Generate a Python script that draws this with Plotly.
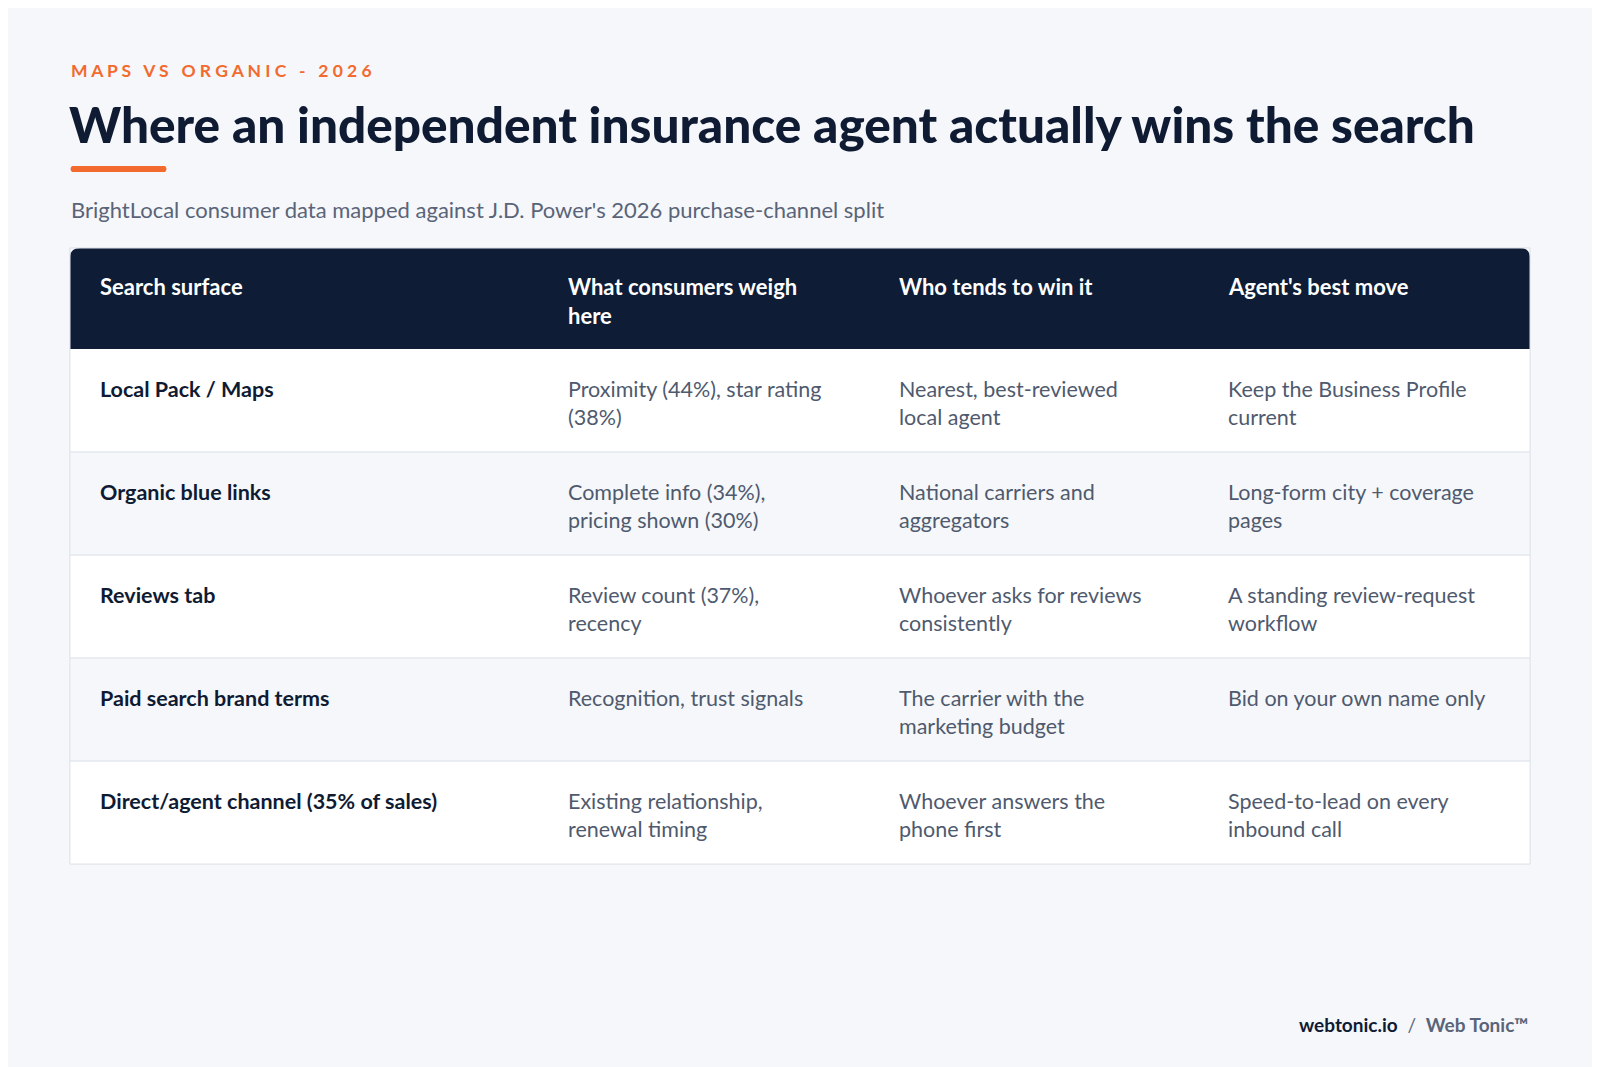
import plotly.graph_objects as go

kicker = "MAPS VS ORGANIC - 2026"
title = "Where an independent insurance agent actually wins the search"
subtitle = "BrightLocal consumer data mapped against J.D. Power's 2026 purchase-channel split"
headers = ["Search surface", "What consumers weigh<br>here", "Who tends to win it", "Agent's best move"]
surfaces = ["Local Pack / Maps", "Organic blue links", "Reviews tab", "Paid search brand terms", "Direct/agent channel (35% of sales)"]
weigh = ["Proximity (44%), star rating<br>(38%)", "Complete info (34%),<br>pricing shown (30%)", "Review count (37%),<br>recency",
         "Recognition, trust signals", "Existing relationship,<br>renewal timing"]
winner = ["Nearest, best-reviewed<br>local agent", "National carriers and<br>aggregators", "Whoever asks for reviews<br>consistently",
          "The carrier with the<br>marketing budget", "Whoever answers the<br>phone first"]
move = ["Keep the Business Profile<br>current", "Long-form city + coverage<br>pages", "A standing review-request<br>workflow",
        "Bid on your own name only", "Speed-to-lead on every<br>inbound call"]

W, H = 1600, 1067
FONT = "Lato"
NAVY = "#0E1C36"
fig = go.Figure()
shapes, ann = [], []

X0, X1 = 70, 1530
HT, HB = 248, 349
RH = 103
colx = [70, 538, 869, 1200]
textx = [c + 28 for c in colx]
textx[3] -= 2

shapes.append(dict(type="rect", x0=X0, x1=X1, y0=HT, y1=HB + RH * len(surfaces), line=dict(color="#E1E5EB", width=1), fillcolor="white", layer="below"))
shapes.append(dict(type="path", path=f"M {X0},{HB} L {X0},{HT+10} Q {X0},{HT} {X0+10},{HT} L {X1-10},{HT} Q {X1},{HT} {X1},{HT+10} L {X1},{HB} Z",
                   fillcolor=NAVY, line=dict(width=0)))
for i in range(len(surfaces)):
    y0 = HB + RH * i
    shapes.append(dict(type="rect", x0=X0, x1=X1, y0=y0, y1=y0 + RH, fillcolor="white" if i % 2 == 0 else "#F5F7FA",
                       line=dict(width=0)))
    if i > 0:
        shapes.append(dict(type="line", x0=X0, x1=X1, y0=y0, y1=y0, line=dict(color="#E3E7EC", width=1.5)))
shapes.append(dict(type="rect", x0=X0, x1=X1, y0=HT, y1=HB + RH * len(surfaces), line=dict(color="#E1E5EB", width=1), fillcolor="rgba(0,0,0,0)"))
shapes.append(dict(type="path", path="M 72,166 L 165,166 Q 168,169 165,172 L 72,172 Q 69,169 72,166 Z", fillcolor="#F26A2E", line=dict(width=0)))

for j, h in enumerate(headers):
    ann.append(dict(x=textx[j], y=271, text=f"<b>{h}</b>", xanchor="left", yanchor="top",
                    font=dict(family=FONT, size=22, color="white"), align="left"))
cols = [surfaces, weigh, winner, move]
for i in range(len(surfaces)):
    y = HB + RH * i + 25
    for j, col in enumerate(cols):
        txt = f"<b>{col[i]}</b>" if j == 0 else col[i]
        ann.append(dict(x=textx[j], y=y, text=txt, xanchor="left", yanchor="top", align="left",
                        font=dict(family=FONT, size=21.5, color="#0F1B33" if j == 0 else "#4F5A6E")))

ann += [
    dict(x=69, y=70, text=f"<b>{' '.join(kicker)}</b>", xanchor="left", yanchor="middle",
         font=dict(family=FONT, size=17.5, color="#F26A2E")),
    dict(x=67, y=124, text=title, xanchor="left", yanchor="middle",
         font=dict(family=FONT, size=49.5, color="#0F1B33", weight=900)),
    dict(x=69, y=209, text=subtitle, xanchor="left", yanchor="middle",
         font=dict(family=FONT, size=22, color="#5A6478")),
    dict(x=1530, y=1024, text="<b>webtonic.io</b>  <span style='color:#5A6478'>/  <b>Web Tonic™</b></span>", xanchor="right",
         yanchor="middle", font=dict(family=FONT, size=19, color="#0F1B33")),
]
for a in ann:
    a.update(xref="x", yref="y", showarrow=False)

OFF = 8
fig.update_layout(width=W, height=H, margin=dict(l=0, r=0, t=0, b=0), paper_bgcolor="#F5F7FA", plot_bgcolor="#F5F7FA",
                  xaxis=dict(range=[OFF, W + OFF], visible=False, fixedrange=True),
                  yaxis=dict(range=[H + OFF, OFF], visible=False, fixedrange=True),
                  shapes=shapes, annotations=ann, showlegend=False)
fig.write_html("out.html")
